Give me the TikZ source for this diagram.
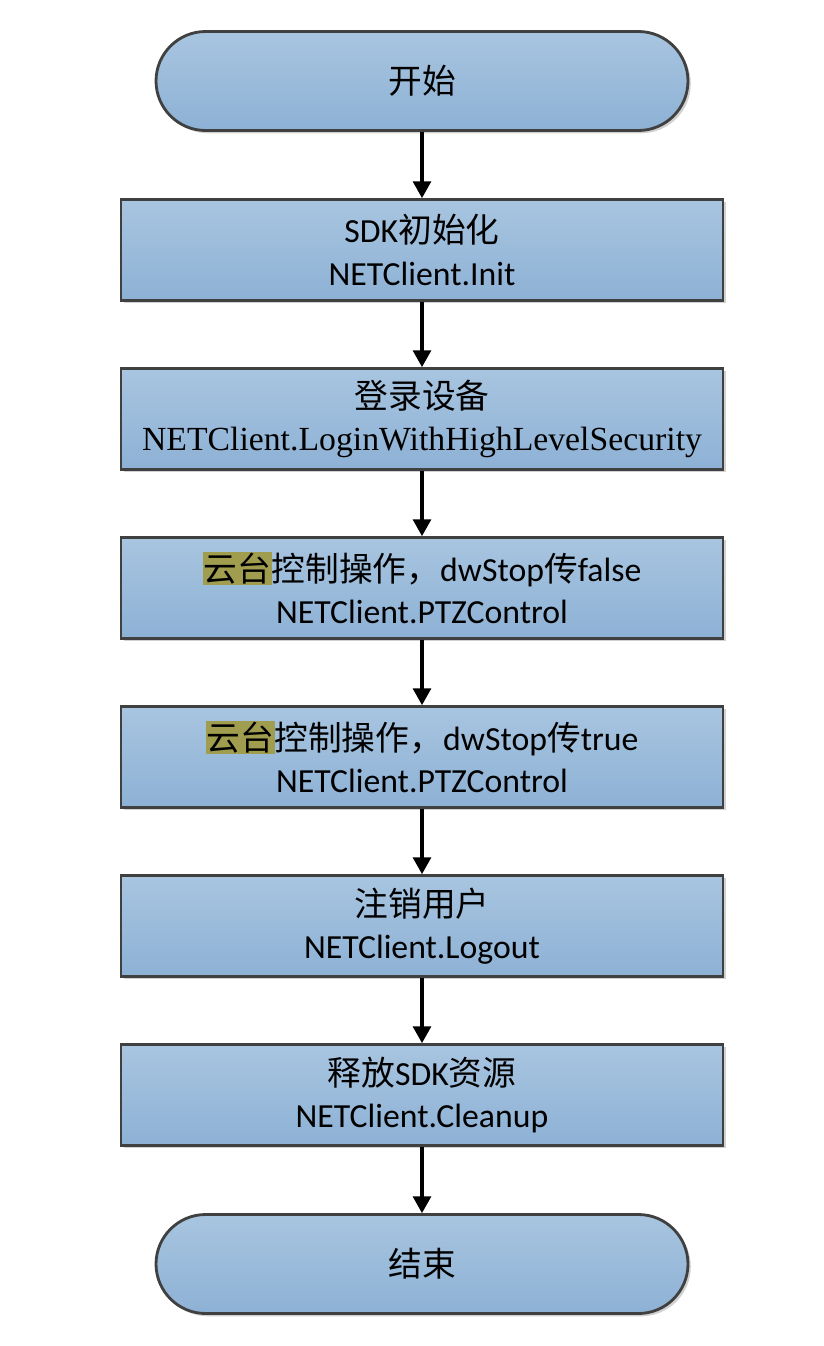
\documentclass[tikz,border=0pt]{standalone}
\usepackage{fontspec}
\setmainfont{Carlito}
\newfontfamily\cjk{Noto Sans CJK SC}
\newfontfamily\serifface{Liberation Serif}
\usetikzlibrary{positioning,shadows,arrows.meta}
\definecolor{boxtop}{RGB}{168,197,224}
\definecolor{boxbottom}{RGB}{141,177,213}
\definecolor{boxline}{RGB}{64,64,64}
\definecolor{marked}{RGB}{160,157,78}
% olive marker behind a few characters
\newcommand{\hilite}[1]{{\setlength{\fboxsep}{0.5pt}\colorbox{marked}{#1}}}

\begin{document}
\begin{tikzpicture}[x=1cm, y=1cm,
    on grid, node distance=4.225cm,
    stepbox/.style={draw=boxline, line width=2pt, top color=boxtop, bottom color=boxbottom,
      minimum width=15.05cm, minimum height=2.525cm, align=center,
      font=\fontsize{24}{30}\selectfont,
      drop shadow={shadow xshift=0.07cm, shadow yshift=-0.07cm, fill=black, opacity=0.18}},
    terminal/.style={stepbox, minimum width=13.3cm, minimum height=2.475cm, rounded corners=1.24cm},
    flow/.style={line width=2.2pt, -{Triangle[length=0.42cm, width=0.45cm]}}]
  \useasboundingbox (0,0) rectangle (20.575,-33.65);

  % the steps, top to bottom
  \node[terminal] (start) at (10.55,-2.025) {{\cjk 开始}};
  \node[stepbox, below=of start] (init) {SDK{\cjk 初始化}\\NETClient.Init};
  \node[stepbox, below=of init] (login) {{\cjk 登录设备}\\{\serifface NETClient.LoginWithHighLevelSecurity}};
  \node[stepbox, below=of login] (ptzstart) {{\cjk\hilite{云台}控制操作，}dwStop{\cjk 传}false\\NETClient.PTZControl};
  \node[stepbox, below=of ptzstart] (ptzstop) {{\cjk\hilite{云台}控制操作，}dwStop{\cjk 传}true\\NETClient.PTZControl};
  \node[stepbox, below=of ptzstop] (logout) {{\cjk 注销用户}\\NETClient.Logout};
  \node[stepbox, below=of logout] (cleanup) {{\cjk 释放}SDK{\cjk 资源}\\NETClient.Cleanup};
  \node[terminal, below=of cleanup] (finish) {{\cjk 结束}};

  % arrows between the steps
  \foreach \from/\to in {start/init, init/login, login/ptzstart, ptzstart/ptzstop,
      ptzstop/logout, logout/cleanup, cleanup/finish}
    \draw[flow] (\from) -- (\to);
\end{tikzpicture}
\end{document}
